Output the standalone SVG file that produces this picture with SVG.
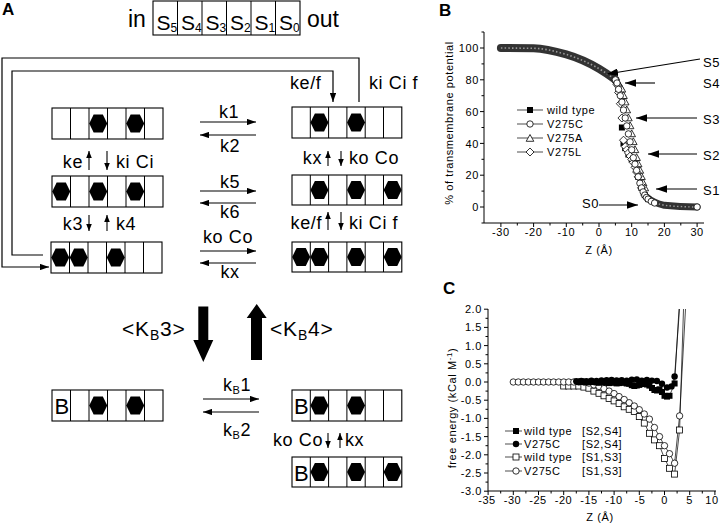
<svg xmlns="http://www.w3.org/2000/svg" width="720" height="523" viewBox="0 0 720 523">
<style>
text{font-family:"Liberation Sans",Arial,Helvetica,sans-serif;fill:#000}
.pl{font-size:17px;font-weight:bold}
.big{font-size:23px}
.s{font-size:21px}
.sub{font-size:12px}
.k{font-size:18px;letter-spacing:0.6px}
.kb{font-size:21px;letter-spacing:0.8px}
.ax{font-size:11px;letter-spacing:0.6px}
.sl{font-size:13px;letter-spacing:0.5px}
.box{fill:#fff;stroke:#000;stroke-width:1.1}
.div{fill:none;stroke:#000;stroke-width:1}
.ln{fill:none;stroke:#000;stroke-width:1.1}
.fb{fill:none;stroke:#000;stroke-width:1.2}
.axl{fill:none;stroke:#000;stroke-width:1}
.dl{fill:none;stroke:#000;stroke-width:0.7}
</style>
<defs>
<marker id="ah" viewBox="0 0 10 7" refX="10" refY="3.5" markerWidth="9" markerHeight="6.3" markerUnits="userSpaceOnUse" orient="auto"><path d="M0,0L10,3.5L0,7z"/></marker>
<marker id="as" viewBox="0 0 10 8" refX="10" refY="4" markerWidth="7" markerHeight="5.6" markerUnits="userSpaceOnUse" orient="auto"><path d="M0,0L10,4L0,8z"/></marker>
<marker id="ab" viewBox="0 0 10 7" refX="10" refY="3.5" markerWidth="11" markerHeight="7.7" markerUnits="userSpaceOnUse" orient="auto"><path d="M0,0L10,3.5L0,7z"/></marker>
<polygon id="hx" points="-4.6,-9 4.6,-9 9,0 4.6,9 -4.6,9 -9,0"/>
<rect id="fs" x="-3" y="-3" width="6" height="6" fill="#000"/>
<rect id="os" x="-3" y="-3" width="6" height="6" fill="#fff" stroke="#000" stroke-width="0.8"/>
<circle id="fc" r="3.2" fill="#000"/>
<circle id="oc" r="3.2" fill="#fff" stroke="#000" stroke-width="0.8"/>
<polygon id="ot" points="0,-4 3.8,2.8 -3.8,2.8" fill="#fff" stroke="#000" stroke-width="0.8"/>
<polygon id="od" points="0,-4 4,0 0,4 -4,0" fill="#fff" stroke="#000" stroke-width="0.8"/>
</defs>
<rect width="720" height="523" fill="#fff"/>

<!-- Panel letters -->
<text class="pl" x="2" y="15">A</text>
<text class="pl" x="439" y="16">B</text>
<text class="pl" x="443" y="294">C</text>

<!-- ===== Panel A ===== -->
<g id="channel">
<text class="big" x="128" y="27">in</text>
<rect class="box" x="153" y="1" width="147" height="34"/>
<path class="div" d="M177.5 1v34M202 1v34M226.5 1v34M251 1v34M275.5 1v34"/>
<text class="s" x="156.5" y="30">S<tspan class="sub" dy="2">5</tspan></text>
<text class="s" x="181" y="30">S<tspan class="sub" dy="2">4</tspan></text>
<text class="s" x="205.5" y="30">S<tspan class="sub" dy="2">3</tspan></text>
<text class="s" x="230" y="30">S<tspan class="sub" dy="2">2</tspan></text>
<text class="s" x="254.5" y="30">S<tspan class="sub" dy="2">1</tspan></text>
<text class="s" x="279" y="30">S<tspan class="sub" dy="2">0</tspan></text>
<text class="big" x="307" y="27">out</text>
</g>

<g id="state-l1">
<rect class="box" x="52" y="108" width="111" height="31"/>
<path class="div" d="M70.5 108v31M89 108v31M107.5 108v31M126 108v31M144.5 108v31"/>
<use href="#hx" x="98.25" y="123.5"/><use href="#hx" x="135.25" y="123.5"/>
</g>
<g id="state-l2">
<rect class="box" x="52" y="176" width="111" height="31"/>
<path class="div" d="M70.5 176v31M89 176v31M107.5 176v31M126 176v31M144.5 176v31"/>
<use href="#hx" x="61.25" y="191.5"/><use href="#hx" x="98.25" y="191.5"/><use href="#hx" x="135.25" y="191.5"/>
</g>
<g id="state-l3">
<rect class="box" x="51" y="242" width="111" height="31"/>
<path class="div" d="M69.5 242v31M88 242v31M106.5 242v31M125 242v31M143.5 242v31"/>
<use href="#hx" x="60.25" y="257.5"/><use href="#hx" x="78.75" y="257.5"/><use href="#hx" x="115.75" y="257.5"/>
</g>
<g id="state-r1">
<rect class="box" x="292" y="107" width="109.8" height="31"/>
<path class="div" d="M310.3 107v31M328.6 107v31M346.9 107v31M365.2 107v31M383.5 107v31"/>
<use href="#hx" x="319.45" y="122.5"/><use href="#hx" x="356.05" y="122.5"/>
</g>
<g id="state-r2">
<rect class="box" x="292" y="175" width="109.8" height="30"/>
<path class="div" d="M310.3 175v30M328.6 175v30M346.9 175v30M365.2 175v30M383.5 175v30"/>
<use href="#hx" x="319.45" y="190"/><use href="#hx" x="356.05" y="190"/><use href="#hx" x="392.65" y="190"/>
</g>
<g id="state-r3">
<rect class="box" x="292" y="242" width="109.8" height="30"/>
<path class="div" d="M310.3 242v30M328.6 242v30M346.9 242v30M365.2 242v30M383.5 242v30"/>
<use href="#hx" x="301.15" y="257"/><use href="#hx" x="319.45" y="257"/><use href="#hx" x="356.05" y="257"/><use href="#hx" x="392.65" y="257"/>
</g>
<g id="state-bl">
<rect class="box" x="52" y="390" width="111" height="31"/>
<path class="div" d="M70.5 390v31M89 390v31M107.5 390v31M126 390v31M144.5 390v31"/>
<text x="54.5" y="414" font-size="22">B</text>
<use href="#hx" x="98.25" y="405.5"/><use href="#hx" x="135.25" y="405.5"/>
</g>
<g id="state-br1">
<rect class="box" x="292" y="390" width="109.8" height="31"/>
<path class="div" d="M310.3 390v31M328.6 390v31M346.9 390v31M365.2 390v31M383.5 390v31"/>
<text x="294" y="414" font-size="22">B</text>
<use href="#hx" x="319.45" y="405.5"/><use href="#hx" x="356.05" y="405.5"/>
</g>
<g id="state-br2">
<rect class="box" x="292" y="457" width="109.8" height="30"/>
<path class="div" d="M310.3 457v30M328.6 457v30M346.9 457v30M365.2 457v30M383.5 457v30"/>
<text x="294" y="480.5" font-size="22">B</text>
<use href="#hx" x="319.45" y="472"/><use href="#hx" x="356.05" y="472"/><use href="#hx" x="392.65" y="472"/>
</g>

<g id="connectors">
<path class="fb" d="M359 102V58H2V267H49" marker-end="url(#ah)"/>
<path class="fb" d="M43 255H12V71H333V102" marker-end="url(#ah)"/>
<line class="ln" x1="200" y1="122" x2="256" y2="122" marker-end="url(#ah)"/>
<line class="ln" x1="256" y1="135" x2="200" y2="135" marker-end="url(#ah)"/>
<line class="ln" x1="200" y1="191" x2="256" y2="191" marker-end="url(#ah)"/>
<line class="ln" x1="256" y1="203" x2="200" y2="203" marker-end="url(#ah)"/>
<line class="ln" x1="200" y1="251" x2="256" y2="251" marker-end="url(#ah)"/>
<line class="ln" x1="256" y1="263" x2="200" y2="263" marker-end="url(#ah)"/>
<line class="ln" x1="203" y1="399" x2="259" y2="399" marker-end="url(#ah)"/>
<line class="ln" x1="259" y1="412" x2="203" y2="412" marker-end="url(#ah)"/>
<line class="ln" x1="89" y1="170" x2="89" y2="151" marker-end="url(#as)"/>
<line class="ln" x1="107" y1="151" x2="107" y2="170" marker-end="url(#as)"/>
<line class="ln" x1="89" y1="215" x2="89" y2="231" marker-end="url(#as)"/>
<line class="ln" x1="107" y1="231" x2="107" y2="215" marker-end="url(#as)"/>
<line class="ln" x1="328" y1="166" x2="328" y2="151" marker-end="url(#as)"/>
<line class="ln" x1="341" y1="151" x2="341" y2="166" marker-end="url(#as)"/>
<line class="ln" x1="328" y1="230" x2="328" y2="212" marker-end="url(#as)"/>
<line class="ln" x1="341" y1="212" x2="341" y2="230" marker-end="url(#as)"/>
<line class="ln" x1="328" y1="433" x2="328" y2="448" marker-end="url(#as)"/>
<line class="ln" x1="340" y1="448" x2="340" y2="433" marker-end="url(#as)"/>
<path d="M198.3 306.5H208.3V340H213.3L203.3 362L193.3 340H198.3Z"/>
<path d="M251 360V318H246.7L256.7 304L266.7 318H262V360Z"/>
</g>

<g id="rate-labels">
<text class="k" x="290" y="89">ke/f</text>
<text class="k" x="369" y="89">ki Ci f</text>
<text class="k" x="229" y="118" text-anchor="middle">k1</text>
<text class="k" x="230" y="152" text-anchor="middle">k2</text>
<text class="k" x="230" y="188" text-anchor="middle">k5</text>
<text class="k" x="230" y="218" text-anchor="middle">k6</text>
<text class="k" x="228" y="243" text-anchor="middle">ko Co</text>
<text class="k" x="230" y="278" text-anchor="middle">kx</text>
<text class="k" x="83" y="168" text-anchor="end">ke</text>
<text class="k" x="116" y="168">ki Ci</text>
<text class="k" x="83" y="230" text-anchor="end">k3</text>
<text class="k" x="116" y="230">k4</text>
<text class="k" x="322" y="164" text-anchor="end">kx</text>
<text class="k" x="349" y="164">ko Co</text>
<text class="k" x="322" y="229" text-anchor="end">ke/f</text>
<text class="k" x="349" y="229">ki Ci f</text>
<text class="k" x="323" y="446" text-anchor="end">ko Co</text>
<text class="k" x="345" y="446">kx</text>
<text class="k" x="223" y="391">k<tspan font-size="11" dy="3">B</tspan><tspan dy="-3">1</tspan></text>
<text class="k" x="223" y="436">k<tspan font-size="11" dy="3">B</tspan><tspan dy="-3">2</tspan></text>
<text class="kb" x="122" y="336">&lt;K<tspan font-size="14" dy="4">B</tspan><tspan dy="-4">3&gt;</tspan></text>
<text class="kb" x="270" y="336">&lt;K<tspan font-size="14" dy="4">B</tspan><tspan dy="-4">4&gt;</tspan></text>
</g>

<!-- ===== Panel B ===== -->
<g id="panelB">
<path class="axl" d="M484 32V223H704"/>
<path class="axl" d="M480 48h4M480 79.8h4M480 111.6h4M480 143.4h4M480 175.2h4M480 207h4M481.5 32h2.5M481.5 63.9h2.5M481.5 95.7h2.5M481.5 127.5h2.5M481.5 159.3h2.5M481.5 191.1h2.5M481.5 223h2.5"/>
<path class="axl" d="M500.9 223v4M533.6 223v4M566.3 223v4M599 223v4M631.7 223v4M664.4 223v4M697.1 223v4M517.3 223v2.5M550 223v2.5M582.7 223v2.5M615.4 223v2.5M648 223v2.5M680.8 223v2.5"/>
<g class="ax" text-anchor="end">
<text x="479" y="52">100</text><text x="479" y="84">80</text><text x="479" y="116">60</text><text x="479" y="147.5">40</text><text x="479" y="179">20</text><text x="479" y="211">0</text>
</g>
<g class="ax" text-anchor="middle">
<text x="500.9" y="236">-30</text><text x="533.6" y="236">-20</text><text x="566.3" y="236">-10</text><text x="599" y="236">0</text><text x="631.7" y="236">10</text><text x="664.4" y="236">20</text><text x="697.1" y="236">30</text>
</g>
<text class="ax" x="599" y="254" text-anchor="middle" font-size="12">Z (Å)</text>
<text class="ax" transform="translate(453,123) rotate(-90)" text-anchor="middle">% of transmembrane potential</text>

<path d="M500.9,48 L533.6,48.3 C545,48.6 555,51.2 566.3,54.4 C577,57.5 590,63.5 599,68.7 C606,72.8 611,76.5 615.4,79.8" fill="none" stroke="#333" stroke-width="8" stroke-linecap="round"/>
<path d="M500.9,48 L533.6,48.3 C545,48.6 555,51.2 566.3,54.4 C577,57.5 590,63.5 599,68.7 C606,72.8 611,76.5 615.4,79.8" fill="none" stroke="#999" stroke-width="1.6" stroke-dasharray="1.5 2.2"/>
<path d="M646,196.5 C651,201 656,203.5 664.4,205.3 C675,206.5 688,207 697.1,207" fill="none" stroke="#333" stroke-width="7" stroke-linecap="round"/>
<path d="M646,196.5 C651,201 656,203.5 664.4,205.3 C675,206.5 688,207 697.1,207" fill="none" stroke="#999" stroke-width="1.4" stroke-dasharray="1.5 2.2"/>

<use href="#fs" x="615.4" y="79.8"/><use href="#fs" x="618.6" y="90.9"/><use href="#fs" x="621.9" y="127.5"/><use href="#fs" x="623.5" y="143.4"/><use href="#fs" x="625.2" y="148.2"/><use href="#fs" x="628.4" y="154.5"/><use href="#fs" x="631.7" y="159.3"/><use href="#fs" x="635" y="165.7"/><use href="#fs" x="638.2" y="176.8"/><use href="#fs" x="641.5" y="187.9"/><use href="#fs" x="644.8" y="195.1"/><use href="#fs" x="648.1" y="199.1"/>
<use href="#ot" x="617" y="81"/><use href="#ot" x="618.6" y="84"/><use href="#ot" x="620.3" y="87"/><use href="#ot" x="621.9" y="89.3"/><use href="#ot" x="623.5" y="95.7"/><use href="#ot" x="625.2" y="102.1"/><use href="#ot" x="626.8" y="110"/><use href="#ot" x="628.4" y="118"/><use href="#ot" x="630.1" y="125.9"/><use href="#ot" x="631.7" y="133.9"/><use href="#ot" x="633.3" y="141.8"/><use href="#ot" x="635" y="149.8"/><use href="#ot" x="636.6" y="157.7"/><use href="#ot" x="638.2" y="164.1"/><use href="#ot" x="639.9" y="170.4"/><use href="#ot" x="641.5" y="176.8"/><use href="#ot" x="643.1" y="183"/><use href="#ot" x="644.8" y="188"/>
<use href="#od" x="615.4" y="79.8"/><use href="#od" x="617" y="84.6"/><use href="#od" x="618.6" y="92.5"/><use href="#od" x="620.3" y="103.7"/><use href="#od" x="621.9" y="118"/><use href="#od" x="623.5" y="140.2"/><use href="#od" x="625.2" y="146.6"/><use href="#od" x="626.8" y="149.8"/><use href="#od" x="628.4" y="152.9"/><use href="#od" x="630.1" y="156.1"/><use href="#od" x="631.7" y="159.3"/><use href="#od" x="633.3" y="162.5"/><use href="#od" x="635" y="167.3"/><use href="#od" x="636.6" y="172"/><use href="#od" x="638.2" y="176.8"/><use href="#od" x="641.5" y="187.9"/><use href="#od" x="644.8" y="195.1"/>
<use href="#oc" x="615.4" y="79.8"/><use href="#oc" x="617" y="83"/><use href="#oc" x="618.6" y="89.3"/><use href="#oc" x="620.3" y="95.7"/><use href="#oc" x="621.9" y="102.1"/><use href="#oc" x="623.5" y="110"/><use href="#oc" x="625.2" y="118"/><use href="#oc" x="626.8" y="125.9"/><use href="#oc" x="628.4" y="133.9"/><use href="#oc" x="630.1" y="141.8"/><use href="#oc" x="631.7" y="149.8"/><use href="#oc" x="633.3" y="157.7"/><use href="#oc" x="635" y="164.1"/><use href="#oc" x="636.6" y="170.4"/><use href="#oc" x="638.2" y="176.8"/><use href="#oc" x="639.9" y="183.2"/><use href="#oc" x="641.5" y="187.9"/><use href="#oc" x="643.1" y="191.9"/><use href="#oc" x="644.8" y="195.1"/><use href="#oc" x="646.4" y="197.5"/><use href="#oc" x="648.1" y="199.1"/><use href="#oc" x="651.3" y="201.4"/><use href="#oc" x="654.6" y="203"/><use href="#oc" x="697.1" y="207"/>

<path class="dl" d="M517 110H543M517 124H543M517 138H543M517 152H543"/>
<use href="#fs" x="530" y="110"/><use href="#oc" x="530" y="124"/><use href="#ot" x="530" y="138.5"/><use href="#od" x="530" y="152"/>
<g class="ax"><text x="547" y="114">wild type</text><text x="547" y="128">V275C</text><text x="547" y="142">V275A</text><text x="547" y="156">V275L</text></g>

<line class="ln" x1="700" y1="59" x2="607" y2="74" marker-end="url(#ab)"/>
<line class="ln" x1="655" y1="83" x2="625" y2="83" marker-end="url(#ab)"/>
<line class="ln" x1="697" y1="118" x2="636" y2="118" marker-end="url(#ab)"/>
<line class="ln" x1="697" y1="154" x2="648" y2="154" marker-end="url(#ab)"/>
<line class="ln" x1="697" y1="189" x2="656" y2="189" marker-end="url(#ab)"/>
<line class="ln" x1="599" y1="205" x2="638" y2="205" marker-end="url(#ab)"/>
<g class="sl"><text x="703" y="67">S5</text><text x="703" y="88">S4</text><text x="703" y="124">S3</text><text x="703" y="160">S2</text><text x="703" y="195">S1</text><text x="582" y="208">S0</text></g>
</g>

<!-- ===== Panel C ===== -->
<g id="panelC">
<path class="axl" d="M488 309V491H716"/>
<path class="axl" d="M484 309.2h4M484 327.4h4M484 345.6h4M484 363.8h4M484 382h4M484 400.2h4M484 418.4h4M484 436.6h4M484 454.8h4M484 473h4M484 491.2h4M485.5 318.3h2.5M485.5 336.5h2.5M485.5 354.7h2.5M485.5 372.9h2.5M485.5 391.1h2.5M485.5 409.3h2.5M485.5 427.5h2.5M485.5 445.7h2.5M485.5 463.9h2.5M485.5 482.1h2.5"/>
<path class="axl" d="M488.1 491v4M513.3 491v4M538.5 491v4M563.7 491v4M588.9 491v4M614.1 491v4M639.3 491v4M664.5 491v4M689.7 491v4M714.9 491v4M500.7 491v2.5M525.9 491v2.5M551.1 491v2.5M576.3 491v2.5M601.5 491v2.5M626.7 491v2.5M651.9 491v2.5M677.1 491v2.5M702.3 491v2.5"/>
<g class="ax" text-anchor="end">
<text x="482" y="313">2.0</text><text x="482" y="331">1.5</text><text x="482" y="349.5">1.0</text><text x="482" y="367.5">0.5</text><text x="482" y="386">0.0</text><text x="482" y="404">-0.5</text><text x="482" y="422">-1.0</text><text x="482" y="440.5">-1.5</text><text x="482" y="458.5">-2.0</text><text x="482" y="477">-2.5</text><text x="482" y="495">-3.0</text>
</g>
<g class="ax" text-anchor="middle">
<text x="487" y="504">-35</text><text x="512.5" y="504">-30</text><text x="538" y="504">-25</text><text x="563.5" y="504">-20</text><text x="589" y="504">-15</text><text x="614" y="504">-10</text><text x="640" y="504">-5</text><text x="664.5" y="504">0</text><text x="689.7" y="504">5</text><text x="712" y="504">10</text>
</g>
<text class="ax" x="600" y="521" text-anchor="middle" font-size="12">Z (Å)</text>
<text class="ax" transform="translate(456,408) rotate(-90)" text-anchor="middle">free energy (kCal M<tspan font-size="8" dy="-4">-1</tspan><tspan dy="4">)</tspan></text>

<polyline class="dl" points="513.3,382 578.8,382 583.9,382 588.9,383.1 593.9,384.9 599,386.4 604,388.6 609.1,391.1 614.1,393.6 619.1,396.6 624.2,399.5 629.2,402.7 634.3,406 639.3,409.7 644.3,414 649.4,419.1 654.4,427.5 659.5,436.6 664.5,445.7 669.5,453.7 674.6,463.2 679.6,415.9 685.5,309"/>
<polyline class="dl" points="563.7,386 578.8,386 583.9,387.1 588.9,388.2 593.9,391.1 599,393.3 604,395.8 609.1,398.4 614.1,400.9 619.1,403.5 624.2,406.8 629.2,409.3 634.3,411.5 639.3,416.6 644.3,423.1 649.4,433.3 654.4,439.9 659.5,445.7 664.5,458.4 669.5,468.3 674.6,474.1 679.6,430 683.5,309"/>
<polyline class="dl" points="578.8,382 604,382 629.2,383.8 634.3,386 639.3,384.9 649.4,385.6 654.4,390 659.5,389.3 664.5,395.8 669.5,395.8 674.6,383.5 679,309"/>
<polyline class="dl" points="576.3,381.3 656.9,381 662,383.8 667,387.5 671.5,386.4 674.6,376.5 679.5,309"/>

<use href="#os" x="563.7" y="386"/><use href="#os" x="568.7" y="386"/><use href="#os" x="573.8" y="386"/><use href="#os" x="578.8" y="386"/><use href="#os" x="583.9" y="387.1"/><use href="#os" x="588.9" y="388.2"/><use href="#os" x="593.9" y="391.1"/><use href="#os" x="599" y="393.3"/><use href="#os" x="604" y="395.8"/><use href="#os" x="609.1" y="398.4"/><use href="#os" x="614.1" y="400.9"/><use href="#os" x="619.1" y="403.5"/><use href="#os" x="624.2" y="406.8"/><use href="#os" x="629.2" y="409.3"/><use href="#os" x="634.3" y="411.5"/><use href="#os" x="639.3" y="416.6"/><use href="#os" x="644.3" y="423.1"/><use href="#os" x="649.4" y="433.3"/><use href="#os" x="654.4" y="439.9"/><use href="#os" x="659.5" y="445.7"/><use href="#os" x="664.5" y="458.4"/><use href="#os" x="669.5" y="468.3"/><use href="#os" x="674.6" y="474.1"/><use href="#os" x="679.6" y="430"/>
<use href="#oc" x="513.3" y="382"/><use href="#oc" x="518.3" y="382"/><use href="#oc" x="523.4" y="382"/><use href="#oc" x="528.4" y="382"/><use href="#oc" x="533.5" y="382"/><use href="#oc" x="538.5" y="382"/><use href="#oc" x="543.5" y="382"/><use href="#oc" x="548.6" y="382"/><use href="#oc" x="553.6" y="382"/><use href="#oc" x="558.7" y="382"/><use href="#oc" x="563.7" y="382"/><use href="#oc" x="568.7" y="382"/><use href="#oc" x="573.8" y="382"/><use href="#oc" x="578.8" y="382"/><use href="#oc" x="583.9" y="382"/><use href="#oc" x="588.9" y="383.1"/><use href="#oc" x="593.9" y="384.9"/><use href="#oc" x="599" y="386.4"/><use href="#oc" x="604" y="388.6"/><use href="#oc" x="609.1" y="391.1"/><use href="#oc" x="614.1" y="393.6"/><use href="#oc" x="619.1" y="396.6"/><use href="#oc" x="624.2" y="399.5"/><use href="#oc" x="629.2" y="402.7"/><use href="#oc" x="634.3" y="406"/><use href="#oc" x="639.3" y="409.7"/><use href="#oc" x="644.3" y="414"/><use href="#oc" x="649.4" y="419.1"/><use href="#oc" x="654.4" y="427.5"/><use href="#oc" x="659.5" y="436.6"/><use href="#oc" x="664.5" y="445.7"/><use href="#oc" x="669.5" y="453.7"/><use href="#oc" x="674.6" y="463.2"/><use href="#oc" x="679.6" y="415.9"/>
<use href="#fs" x="578.8" y="382"/><use href="#fs" x="581.3" y="381.5"/><use href="#fs" x="583.9" y="382"/><use href="#fs" x="586.4" y="382.3"/><use href="#fs" x="588.9" y="382"/><use href="#fs" x="591.4" y="381.6"/><use href="#fs" x="593.9" y="382"/><use href="#fs" x="596.5" y="382.4"/><use href="#fs" x="599" y="382.7"/><use href="#fs" x="601.5" y="382.2"/><use href="#fs" x="604" y="382"/><use href="#fs" x="606.6" y="382.8"/><use href="#fs" x="609.1" y="383.1"/><use href="#fs" x="611.6" y="382.4"/><use href="#fs" x="614.1" y="382.7"/><use href="#fs" x="616.6" y="383.4"/><use href="#fs" x="619.1" y="383.1"/><use href="#fs" x="621.7" y="382.6"/><use href="#fs" x="624.2" y="382.7"/><use href="#fs" x="626.7" y="383.5"/><use href="#fs" x="629.2" y="383.8"/><use href="#fs" x="631.8" y="385.2"/><use href="#fs" x="634.3" y="386"/><use href="#fs" x="636.8" y="385.5"/><use href="#fs" x="639.3" y="384.9"/><use href="#fs" x="641.8" y="384"/><use href="#fs" x="646.9" y="384.5"/><use href="#fs" x="649.4" y="385.6"/><use href="#fs" x="652" y="388"/><use href="#fs" x="654.4" y="390"/><use href="#fs" x="657" y="390.5"/><use href="#fs" x="659.5" y="389.3"/><use href="#fs" x="662" y="392"/><use href="#fs" x="664.5" y="395.8"/><use href="#fs" x="667" y="396.6"/><use href="#fs" x="669.5" y="395.8"/><use href="#fs" x="674.6" y="383.5"/>
<use href="#fc" x="576.3" y="381.3"/><use href="#fc" x="581.3" y="381"/><use href="#fc" x="586.4" y="381.3"/><use href="#fc" x="591.4" y="380.8"/><use href="#fc" x="596.5" y="381"/><use href="#fc" x="601.5" y="380.5"/><use href="#fc" x="606.6" y="380.2"/><use href="#fc" x="611.6" y="380"/><use href="#fc" x="616.6" y="380.4"/><use href="#fc" x="621.7" y="380.2"/><use href="#fc" x="626.7" y="380.6"/><use href="#fc" x="631.8" y="379.6"/><use href="#fc" x="636.8" y="379.5"/><use href="#fc" x="641.8" y="380.8"/><use href="#fc" x="646.9" y="380"/><use href="#fc" x="651.9" y="380.6"/><use href="#fc" x="656.9" y="381"/><use href="#fc" x="662" y="383.8"/><use href="#fc" x="667" y="387.5"/><use href="#fc" x="671.5" y="386.4"/><use href="#fc" x="674.6" y="376.5"/>

<path class="dl" d="M505 431H522M505 444H522M505 457H522M505 471H522"/>
<use href="#fs" x="516" y="431"/><use href="#fc" x="516" y="444"/><use href="#os" x="516" y="457"/><use href="#oc" x="516" y="471"/>
<g class="ax">
<text x="524" y="435">wild type <tspan x="582">[S2,S4]</tspan></text>
<text x="524" y="448">V275C<tspan x="582">[S2,S4]</tspan></text>
<text x="524" y="461">wild type <tspan x="582">[S1,S3]</tspan></text>
<text x="524" y="475">V275C<tspan x="582">[S1,S3]</tspan></text>
</g>
</g>
</svg>
